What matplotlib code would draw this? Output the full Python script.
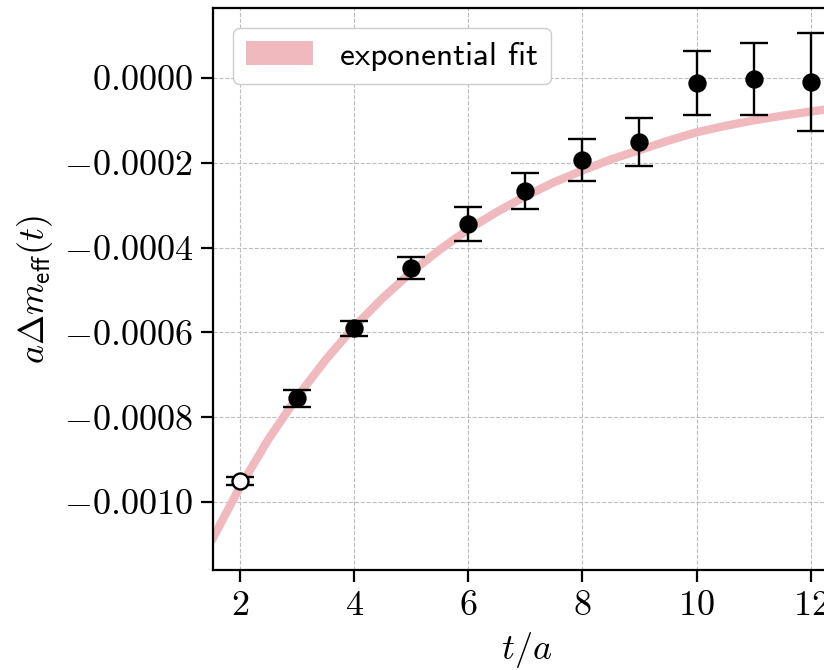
import matplotlib
matplotlib.use("Agg")
import matplotlib.pyplot as plt
from matplotlib.patches import Patch
from matplotlib.ticker import FuncFormatter

plt.rcParams['font.family'] = 'serif'
plt.rcParams['font.serif'] = ['cmr10', 'DejaVu Serif']
plt.rcParams['mathtext.fontset'] = 'cm'
plt.rcParams['axes.unicode_minus'] = False

# effective mass difference data
t_vals = [2, 3, 4, 5, 6, 7, 8, 9, 10, 11, 12]
dm_vals = [-0.000950, -0.000755, -0.000590, -0.000448, -0.000344, -0.000267,
           -0.000193, -0.000151, -0.000012, -0.000002, -0.000010]
dm_err = [0.000010, 0.000020, 0.000018, 0.000025, 0.000040, 0.000042,
          0.000049, 0.000056, 0.000076, 0.000085, 0.000115]
fit_from = 3  # points before this t are excluded from the fit (open marker)

# exponential fit curve
fit_t = [1.5, 2.0, 2.5, 3.0, 3.5, 4.0, 4.5, 5.0, 5.5, 6.0, 6.5, 7.0, 7.5,
         8.0, 8.5, 9.0, 9.5, 10.0, 10.5, 11.0, 11.5, 12.0, 12.5, 13.0]
fit_y = [-0.001092, -0.000965, -0.000852, -0.000753, -0.000665, -0.000587,
         -0.000519, -0.000458, -0.000405, -0.000357, -0.000316, -0.000279,
         -0.000246, -0.000218, -0.000192, -0.000170, -0.000148, -0.000128,
         -0.000113, -0.000100, -0.000089, -0.000079, -0.000070, -0.000062]

fig = plt.figure(figsize=(8.24, 6.70), dpi=100)
ax = fig.add_axes([213 / 824, 1 - 570 / 670, (841 - 213) / 824, (570 - 8) / 670])

fit_color = '#f0b9bd'
ax.plot(fit_t, fit_y, color=fit_color, lw=6, solid_capstyle='butt', zorder=2)

for t, y, e in zip(t_vals, dm_vals, dm_err):
    face = 'white' if t < fit_from else 'black'
    ax.errorbar(t, y, yerr=e, fmt='o', color='black', mfc=face, mec='black',
                ms=11.5, mew=1.7, elinewidth=1.7, capsize=10, capthick=1.7, zorder=3)

ax.set_xlim(1.53, 12.53)
ax.set_ylim(-0.00116, 0.000165)
ax.set_xticks([2, 4, 6, 8, 10, 12])
ax.set_yticks([0.0, -0.0002, -0.0004, -0.0006, -0.0008, -0.0010])

def ytick_fmt(v, pos):
    if abs(v) < 1e-12:
        v = 0.0
    return f'${v:.4f}$'

ax.yaxis.set_major_formatter(FuncFormatter(ytick_fmt))
ax.xaxis.set_major_formatter(FuncFormatter(lambda v, pos: f'${v:.0f}$'))
ax.tick_params(direction='out', length=8.5, width=1.6, labelsize=26, pad=6)

ax.grid(True, color='#bdbdbd', linestyle='--', linewidth=0.8)
ax.set_axisbelow(True)
for s in ax.spines.values():
    s.set_linewidth(1.6)

ax.set_xlabel(r'$t/a$', fontsize=26, labelpad=6)
ax.set_ylabel(r'$a\Delta m_{\mathsf{eff}}(t)$', fontsize=26, labelpad=6)

handle = Patch(facecolor=fit_color, edgecolor='none')
ax.legend([handle], ['exponential fit'], loc='upper left',
          prop={'family': 'cmss10', 'size': 24}, frameon=True,
          edgecolor='#cccccc', fancybox=True, framealpha=1.0,
          borderaxespad=0.6)

fig.savefig('out.png', dpi=100)
